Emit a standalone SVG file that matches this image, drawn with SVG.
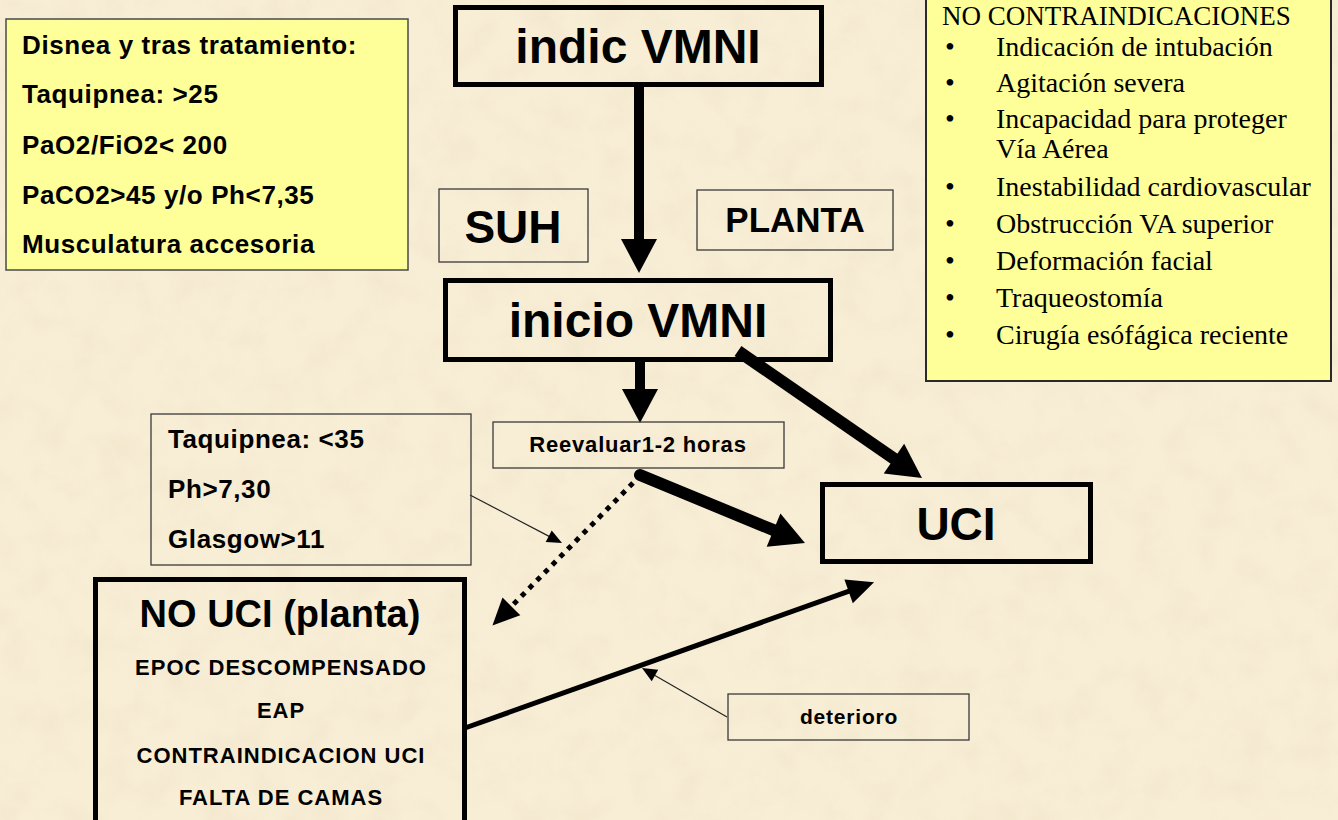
<svg xmlns="http://www.w3.org/2000/svg" width="1338" height="820" viewBox="0 0 1338 820">
  <defs>
    <style>
      .sans { font-family: "Liberation Sans", Arial, sans-serif; font-weight: bold; fill: #000; }
      .serif { font-family: "Liberation Serif", "Times New Roman", serif; font-size: 28px; fill: #000; }
      .thick { fill: none; stroke: #000; stroke-width: 5; }
      .thin { fill: none; stroke: #3a3a3a; stroke-width: 1.3; }
      .note { fill: #ffff99; }
      .big { font-size: 48px; }
      .crit { font-size: 26px; letter-spacing: 0.6px; }
      .list { font-size: 22px; letter-spacing: 1px; }
    </style>
    <filter id="paper" x="0" y="0" width="100%" height="100%">
      <feTurbulence type="fractalNoise" baseFrequency="0.03" numOctaves="4" seed="7" result="n"/>
      <feColorMatrix in="n" type="matrix" values="0 0 0 0 0.85  0 0 0 0 0.76  0 0 0 0 0.56  1.4 0 0 0 -0.55"/>
    </filter>
    <marker id="bigHead" markerUnits="userSpaceOnUse" markerWidth="40" markerHeight="40" refX="2" refY="0" viewBox="0 -20 40 40" orient="auto" overflow="visible">
      <path d="M0,-18 L34,0 L0,18 Z" fill="#000"/>
    </marker>
    <marker id="midHead" markerUnits="userSpaceOnUse" markerWidth="30" markerHeight="30" refX="2" refY="0" viewBox="0 -15 30 30" orient="auto" overflow="visible">
      <path d="M0,-12.5 L27,0 L0,12.5 Z" fill="#000"/>
    </marker>
    <marker id="smallHead" markerUnits="userSpaceOnUse" markerWidth="18" markerHeight="18" refX="1" refY="0" viewBox="0 -9 18 18" orient="auto" overflow="visible">
      <path d="M0,-6.5 L15,0 L0,6.5 Z" fill="#000"/>
    </marker>
  </defs>

  <rect x="0" y="0" width="1338" height="820" fill="#f8eed6"/>
  <rect x="0" y="0" width="1338" height="820" filter="url(#paper)" opacity="0.6"/>

  <g id="connectors">
    <line x1="639" y1="85" x2="639" y2="241" stroke="#000" stroke-width="10" marker-end="url(#bigHead)"/>
    <line x1="640" y1="360" x2="640" y2="391" stroke="#000" stroke-width="10" marker-end="url(#bigHead)"/>
    <line x1="738" y1="351" x2="895.6" y2="459.8" stroke="#000" stroke-width="12" marker-end="url(#bigHead)"/>
    <line x1="640" y1="475" x2="775.4" y2="530.9" stroke="#000" stroke-width="12" stroke-linecap="round" marker-end="url(#bigHead)"/>
    <line x1="633" y1="483" x2="510" y2="607.8" stroke="#000" stroke-width="5" stroke-dasharray="5 6" marker-end="url(#midHead)"/>
    <line x1="465" y1="728" x2="850.5" y2="590.7" stroke="#000" stroke-width="5" marker-end="url(#midHead)"/>
    <line x1="470" y1="495" x2="549.6" y2="536.6" stroke="#222" stroke-width="1.2" marker-end="url(#smallHead)"/>
    <line x1="727" y1="717" x2="654.1" y2="675" stroke="#222" stroke-width="1.2" marker-end="url(#smallHead)"/>
  </g>

  <g id="criterios">
    <rect class="note" x="6" y="19" width="402" height="251" stroke="#4a4a4a" stroke-width="1.5"/>
    <text class="sans crit" x="22" y="54">Disnea y tras tratamiento:</text>
    <text class="sans crit" x="22" y="103">Taquipnea: &gt;25</text>
    <text class="sans crit" x="22" y="154">PaO2/FiO2&lt; 200</text>
    <text class="sans crit" x="22" y="204">PaCO2&gt;45 y/o Ph&lt;7,35</text>
    <text class="sans crit" x="22" y="253">Musculatura accesoria</text>
  </g>

  <g id="indic">
    <rect class="thick" x="455.5" y="7.5" width="366" height="77"/>
    <text class="sans big" x="638" y="63" text-anchor="middle">indic VMNI</text>
  </g>

  <g id="suh">
    <rect class="thin" x="439" y="189" width="149" height="73"/>
    <text class="sans" font-size="46" x="513" y="243" text-anchor="middle">SUH</text>
  </g>

  <g id="planta">
    <rect class="thin" x="697" y="190" width="196" height="60"/>
    <text class="sans" font-size="35" x="795" y="232" text-anchor="middle">PLANTA</text>
  </g>

  <g id="contraindicaciones">
    <rect class="note" x="926" y="-6" width="405" height="387" stroke="#2a2a2a" stroke-width="2"/>
    <text class="serif" font-size="27" x="942" y="25" style="font-size:27px">NO CONTRAINDICACIONES</text>
    <g class="serif">
      <text x="945" y="56">•</text><text x="996" y="56">Indicación de intubación</text>
      <text x="945" y="92">•</text><text x="996" y="92">Agitación severa</text>
      <text x="945" y="128">•</text><text x="996" y="128">Incapacidad para proteger</text>
      <text x="996" y="158">Vía Aérea</text>
      <text x="945" y="196">•</text><text x="996" y="196">Inestabilidad cardiovascular</text>
      <text x="945" y="233">•</text><text x="996" y="233">Obstrucción VA superior</text>
      <text x="945" y="270">•</text><text x="996" y="270">Deformación facial</text>
      <text x="945" y="307">•</text><text x="996" y="307">Traqueostomía</text>
      <text x="945" y="344">•</text><text x="996" y="344">Cirugía esófágica reciente</text>
    </g>
  </g>

  <g id="inicio">
    <rect class="thick" x="445.5" y="280.5" width="385" height="79"/>
    <text class="sans big" x="638" y="337" text-anchor="middle">inicio VMNI</text>
  </g>

  <g id="reevaluar">
    <rect class="thin" x="493" y="422" width="291" height="46"/>
    <text class="sans" font-size="22" letter-spacing="0.8" x="638" y="452" text-anchor="middle">Reevaluar1-2 horas</text>
  </g>

  <g id="criterios-planta">
    <rect class="thin" x="151" y="414" width="320" height="151"/>
    <text class="sans crit" x="168" y="448">Taquipnea: &lt;35</text>
    <text class="sans crit" x="168" y="498">Ph&gt;7,30</text>
    <text class="sans crit" x="168" y="548">Glasgow&gt;11</text>
  </g>

  <g id="uci">
    <rect class="thick" x="822.5" y="484.5" width="268" height="77"/>
    <text class="sans" font-size="46" x="956" y="540" text-anchor="middle">UCI</text>
  </g>

  <g id="no-uci">
    <rect class="thick" x="95.5" y="579.5" width="369" height="260"/>
    <text class="sans" font-size="38" x="280" y="627" text-anchor="middle">NO UCI (planta)</text>
    <text class="sans list" x="281" y="675" text-anchor="middle">EPOC DESCOMPENSADO</text>
    <text class="sans list" x="281" y="718" text-anchor="middle">EAP</text>
    <text class="sans list" x="281" y="763" text-anchor="middle">CONTRAINDICACION UCI</text>
    <text class="sans list" x="281" y="805" text-anchor="middle">FALTA DE CAMAS</text>
  </g>

  <g id="deterioro">
    <rect class="thin" x="728" y="694" width="241" height="46"/>
    <text class="sans" font-size="21" letter-spacing="0.8" x="849" y="724" text-anchor="middle">deterioro</text>
  </g>
</svg>
